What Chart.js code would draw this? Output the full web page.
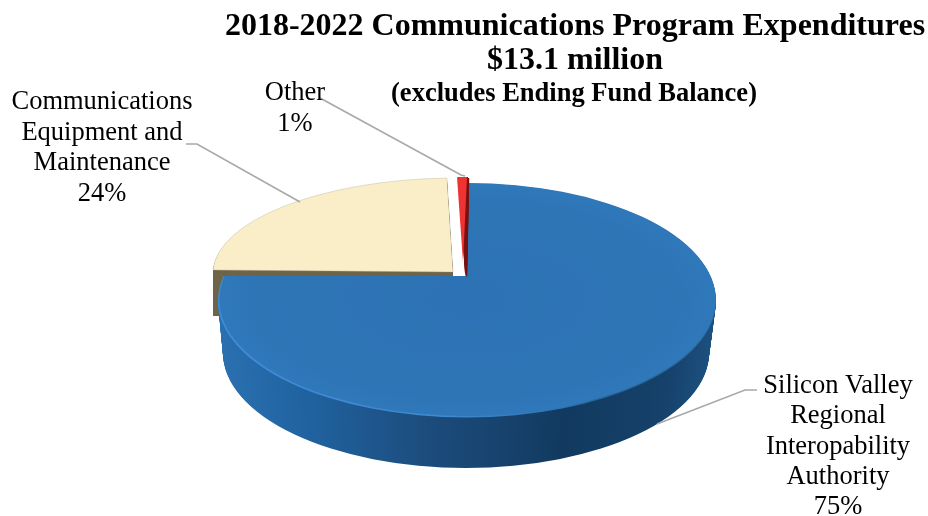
<!DOCTYPE html>
<html>
<head>
<meta charset="utf-8">
<script src="https://cdn.jsdelivr.net/npm/chart.js@4"></script>
<style>
html,body{margin:0;padding:0;background:#fff}
#wrap{width:928px;height:516px;position:relative}
</style>
</head>
<body>
<div id="wrap"><canvas id="c" width="928" height="516"></canvas></div>
<script>
const categories = ["Silicon Valley Regional Interopability Authority", "Communications Equipment and Maintenance", "Other"];
const shares = [75, 24, 1];
const sliceColors = ["#2e74b5", "#f9eec8", "#ee3333"];
const titleLines = ["2018-2022 Communications Program Expenditures", "$13.1 million", "(excludes Ending Fund Balance)"];
const labelLines = [
  ["Silicon Valley", "Regional", "Interopability", "Authority", "75%"],
  ["Communications", "Equipment and", "Maintenance", "24%"],
  ["Other", "1%"]
];

// Oblique projection of the unit pie for each slice: centre, image of "up", image of "left"
const projections = [
  {cx:467, cy:300, up:[0,-117], left:[-249,0]},
  {cx:453, cy:272, up:[9,-94], left:[-240,-2]},
  {cx:465, cy:276, up:[2,-99],  left:[-159,0]}
];
const FONT = '"Liberation Serif","Times New Roman",serif';

function applyProj(ctx, el, p){
  const R = el.outerRadius;
  const a = -p.left[0]/R, b = -p.left[1]/R, c = -p.up[0]/R, d = -p.up[1]/R;
  ctx.transform(a, b, c, d, p.cx - a*el.x - c*el.y, p.cy - b*el.x - d*el.y);
}
function drawShim(ctx, el, p, fill, extra, stroke){
  const shim = Object.create(el);
  Object.assign(shim, extra || {});
  shim.options = {backgroundColor:fill, borderColor:stroke||fill, borderWidth:stroke?0.5:0, offset:0, spacing:0,
    borderRadius:0, borderAlign:'center', borderJoinStyle:'round', borderDash:[], borderDashOffset:0, circular:true};
  ctx.save();
  applyProj(ctx, el, p);
  shim.draw(ctx);
  ctx.restore();
}
function hGrad(ctx, el, stops){
  const g = ctx.createLinearGradient(el.x-el.outerRadius, 0, el.x+el.outerRadius, 0);
  stops.forEach(s=>g.addColorStop(s[0], s[1]));
  return g;
}

const pie3d = {
  id:'pie3d',
  beforeDatasetDraw(chart){
    const ctx = chart.ctx;
    const [blue, cream, red] = chart.getDatasetMeta(0).data;
    const [pb, pc, pr] = projections;

    // cream side
    for(let d=46; d>=1; d--){
      drawShim(ctx, cream, {...pc, cy:pc.cy+d}, '#6e6548');
    }
    // blue side
    const side = hGrad(ctx, blue, [[0,'#2a70b0'],[0.18,'#2062a0'],[0.42,'#1c4c7c'],[0.7,'#123a60'],[0.9,'#15416a'],[1,'#1d5080']]);
    for(let d=53; d>=1; d--){
      const t = d/53;
      const p = {cx:pb.cx-1*t, cy:pb.cy+d, up:[0,pb.up[1]+2*t], left:[pb.left[0]+6*t,0]};
      drawShim(ctx, blue, p, side);
    }
    // blue rim light + top face, with the perspective strip under the cream wedge
    const rim = hGrad(ctx, blue, [[0,'#3f8ad6'],[0.45,'#3f8ad0'],[0.68,'#2e75b6'],[0.8,'#24608f'],[1,'#2b6ea8']]);
    const strip = (p, fill)=>{
      drawShim(ctx, blue, p, fill);
      ctx.save();
      ctx.beginPath();
      ctx.rect(0, 276, 471, 60);
      ctx.clip();
      const end = blue.startAngle + Math.PI*2 - 0.0001;
      drawShim(ctx, blue, p, fill, {endAngle:end, circumference:end-blue.startAngle});
      ctx.restore();
    };
    strip({cx:pb.cx, cy:pb.cy+0.5, up:pb.up, left:pb.left}, rim);
    const top = ctx.createRadialGradient(blue.x, blue.y, 0, blue.x, blue.y, blue.outerRadius);
    top.addColorStop(0, '#2c72b4');
    top.addColorStop(0.85, '#2e75b6');
    top.addColorStop(1, '#2f78ba');
    strip({cx:pb.cx+0.5, cy:pb.cy-0.5, up:[0,pb.up[1]+0.5], left:[pb.left[0]+1,0]}, top);

    // cream top
    drawShim(ctx, cream, pc, cream.options.backgroundColor, null, '#a8a294');

    // red side and top
    for(let d=16; d>=1; d--){
      drawShim(ctx, red, {...pr, cx:pr.cx+d*0.14, cy:pr.cy+d*0.1, left:[pr.left[0]*0.9,0]}, '#7a1212');
    }
    const rb = {cx:463, cy:262, up:[4,-85], left:[-159,0]};
    drawShim(ctx, red, rb, red.options.backgroundColor);
    return false;
  },
  afterDraw(chart){
    const ctx = chart.ctx;
    ctx.save();
    // leader lines
    ctx.strokeStyle = '#a9a9a9';
    ctx.lineWidth = 1.7;
    [[[757,390],[745,390],[657,424]], [[186,144],[197,144],[300,202]], [[320,98],[461,175],[465,176]]].forEach(line=>{
      ctx.beginPath();
      line.forEach((pt,i)=> i ? ctx.lineTo(pt[0],pt[1]) : ctx.moveTo(pt[0],pt[1]));
      ctx.stroke();
    });
    // title
    ctx.fillStyle = '#000';
    ctx.textAlign = 'center';
    ctx.textBaseline = 'alphabetic';
    ctx.font = 'bold 32px ' + FONT;
    ctx.fillText(titleLines[0], 575, 35);
    ctx.fillText(titleLines[1], 575, 69);
    ctx.font = 'bold 26.5px ' + FONT;
    ctx.fillText(titleLines[2], 574, 101);
    // slice labels
    ctx.font = '26.5px ' + FONT;
    const anchors = [[838,393,30.3],[102,109,30.5],[295,100,31]];
    labelLines.forEach((ls,i)=>{
      ls.forEach((s,j)=>ctx.fillText(s, anchors[i][0], anchors[i][1]+j*anchors[i][2]));
    });
    ctx.restore();
  }
};

new Chart(document.getElementById('c'), {
  type:'pie',
  data:{labels:categories, datasets:[{data:shares, backgroundColor:sliceColors, borderWidth:0}]},
  options:{
    responsive:false, animation:false,
    layout:{padding:0},
    plugins:{legend:{display:false}, tooltip:{enabled:false}, title:{display:false}}
  },
  plugins:[pie3d]
});
</script>
</body>
</html>
